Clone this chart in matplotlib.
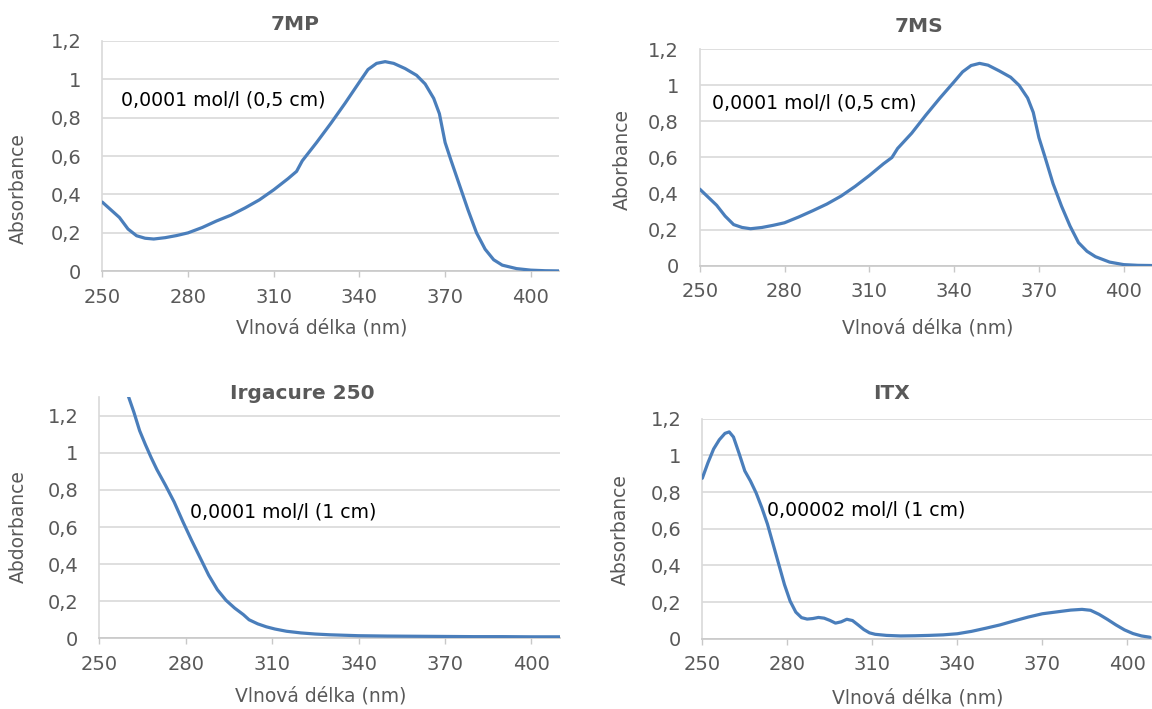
import matplotlib
matplotlib.use('Agg')
import matplotlib.pyplot as plt

#global look (Excel-like)
plt.rc('font', family='DejaVu Sans')
plt.rc('axes', linewidth=1.0)
plt.rc('xtick', labelsize=14)
plt.rc('ytick', labelsize=14)

W, H = 1152, 709
DPI = 100
LINE_COLOR = '#4a7ebb'
GRAY_TEXT = '#595959'
GRID = '#d9d9d9'

# --- data ---
wl_7mp = [250, 253, 256, 259, 262, 265, 268, 272, 276, 280, 285, 290, 295, 300, 305, 310, 315, 318,
          320, 325, 330, 335, 340, 343, 346, 349, 352, 356, 360, 363, 366, 368, 370, 372, 375, 378,
          381, 384, 387, 390, 395, 400, 405, 410]
abs_7mp = [0.36, 0.32, 0.28, 0.22, 0.185, 0.172, 0.168, 0.175, 0.186, 0.200, 0.228, 0.262, 0.292,
           0.330, 0.372, 0.424, 0.482, 0.52, 0.575, 0.670, 0.770, 0.875, 0.985, 1.050, 1.082, 1.091,
           1.082, 1.055, 1.020, 0.975, 0.900, 0.820, 0.670, 0.580, 0.450, 0.320, 0.200, 0.115, 0.060,
           0.032, 0.014, 0.006, 0.003, 0.002]

wl_7ms = [250, 253, 256, 259, 262, 265, 268, 272, 276, 280, 285, 290, 295, 300, 305, 310, 315, 318,
          320, 325, 330, 335, 340, 343, 346, 349, 352, 356, 360, 363, 366, 368, 370, 372, 375, 378,
          381, 384, 387, 390, 395, 400, 405, 410]
abs_7ms = [0.425, 0.38, 0.335, 0.275, 0.228, 0.212, 0.205, 0.212, 0.224, 0.238, 0.270, 0.305, 0.342,
           0.386, 0.440, 0.500, 0.565, 0.600, 0.650, 0.735, 0.835, 0.930, 1.020, 1.075, 1.110, 1.122,
           1.112, 1.080, 1.045, 1.000, 0.930, 0.850, 0.710, 0.610, 0.455, 0.330, 0.220, 0.128, 0.080,
           0.050, 0.020, 0.006, 0.002, 0.001]

wl_irg = [258, 260, 262, 264, 266, 268, 270, 273, 276, 279, 282, 285, 288, 291, 294, 297, 300, 302,
          305, 308, 311, 315, 320, 325, 330, 340, 350, 360, 370, 380, 390, 400, 410]
abs_irg = [1.37, 1.31, 1.22, 1.12, 1.045, 0.975, 0.910, 0.825, 0.735, 0.630, 0.530, 0.435, 0.340,
           0.262, 0.205, 0.163, 0.128, 0.100, 0.078, 0.062, 0.050, 0.038, 0.029, 0.023, 0.019, 0.014,
           0.012, 0.011, 0.010, 0.009, 0.009, 0.008, 0.008]

wl_itx = [250, 252, 254, 256, 258, 259.5, 261, 263, 265, 267, 269, 271, 273, 275, 277, 279, 281, 283,
          285, 287, 289, 291, 293, 295, 297, 299, 301, 303, 305, 307, 309, 311, 315, 320, 325, 330,
          335, 340, 345, 350, 355, 360, 365, 370, 375, 380, 384, 387, 390, 393, 396, 399, 402, 405, 408]
abs_itx = [0.875, 0.96, 1.035, 1.085, 1.120, 1.128, 1.100, 1.010, 0.915, 0.860, 0.795, 0.715, 0.625,
           0.515, 0.405, 0.295, 0.205, 0.145, 0.115, 0.107, 0.110, 0.116, 0.112, 0.100, 0.085, 0.092,
           0.106, 0.099, 0.075, 0.050, 0.032, 0.024, 0.018, 0.015, 0.016, 0.018, 0.021, 0.027, 0.040,
           0.057, 0.075, 0.097, 0.118, 0.136, 0.146, 0.156, 0.160, 0.155, 0.133, 0.105, 0.075, 0.048,
           0.028, 0.015, 0.008]

x_ticks = [250, 280, 310, 340, 370, 400]
y_ticks = [0, 0.2, 0.4, 0.6, 0.8, 1.0, 1.2]
y_tick_labels = ['0', '0,2', '0,4', '0,6', '0,8', '1', '1,2']
x_label = 'Vlnová délka (nm)'


def px_rect(left, top, right, bottom):
  return [left/W, 1-bottom/H, (right-left)/W, (bottom-top)/H]


def panel(fig, rect, wl, ab, title, ylabel, note, note_xy, title_x, title_off, ylab_xy, xlab_xy,
          ymax=1.2, xmax=410):
  ax = fig.add_axes(rect)
  ax.plot(wl, ab, color=LINE_COLOR, lw=2.3, solid_capstyle='round', solid_joinstyle='round', zorder=3)
  ax.set_xlim(250, xmax)
  ax.set_ylim(0, ymax)
  ax.set_xticks(x_ticks)
  ax.set_yticks(y_ticks)
  ax.set_yticklabels(y_tick_labels)
  ax.grid(axis='y', color=GRID, lw=1.2, zorder=0)
  for s in ['top', 'right']:
    ax.spines[s].set_visible(False)
  ax.spines['left'].set_color(GRID)
  ax.spines['bottom'].set_color('#c8c8c8')
  ax.spines['left'].set_linewidth(1.2)
  ax.spines['bottom'].set_linewidth(1.2)
  ax.tick_params(axis='x', direction='out', length=4, width=1, color='#c8c8c8', labelcolor=GRAY_TEXT, pad=8)
  ax.tick_params(axis='y', length=0, labelcolor=GRAY_TEXT, pad=15)
  ax.set_ylabel(ylabel, fontsize=13.5, color=GRAY_TEXT)
  ax.yaxis.set_label_coords(ylab_xy[0], ylab_xy[1])
  ax.set_xlabel(x_label, fontsize=13.5, color=GRAY_TEXT)
  ax.xaxis.set_label_coords(xlab_xy[0], xlab_xy[1])
  ax.annotate(title, xy=(title_x, 1), xycoords='axes fraction', xytext=(0, title_off*0.72),
              textcoords='offset points', ha='center', va='center', fontsize=14.5,
              fontweight='bold', color=GRAY_TEXT)
  ax.text(note_xy[0], note_xy[1], note, fontsize=13.6, color='black', ha='left', va='center', zorder=4)
  return ax


fig = plt.figure(figsize=(W/DPI, H/DPI), dpi=DPI)

panel(fig, px_rect(102.3, 40.7, 559.4, 271.3), wl_7mp, abs_7mp, '7MP', 'Absorbance',
      '0,0001 mol/l (0,5 cm)', (256.4, 0.89), 0.4225, 15.7, (-0.163, 0.357), (0.48, -0.203))
panel(fig, px_rect(699.7, 49.3, 1152, 265.7), wl_7ms, abs_7ms, '7MS', 'Aborbance',
      '0,0001 mol/l (0,5 cm)', (254.5, 0.904), 0.484, 22.6, (-0.15, 0.49), (0.503, -0.242))
panel(fig, px_rect(99.3, 397.3, 560.1, 638.3), wl_irg, abs_irg, 'Irgacure 250', 'Abdorbance',
      '0,0001 mol/l (1 cm)', (281.4, 0.682), 0.44, 4, (-0.155, 0.463), (0.48, -0.201), ymax=1.3)
panel(fig, px_rect(702.3, 418.7, 1152, 638.7), wl_itx, abs_itx, 'ITX', 'Absorbance',
      '0,00002 mol/l (1 cm)', (272.8, 0.702), 0.42, 25.4, (-0.161, 0.494), (0.48, -0.225), xmax=408.7)

fig.savefig('out.png', dpi=DPI)
